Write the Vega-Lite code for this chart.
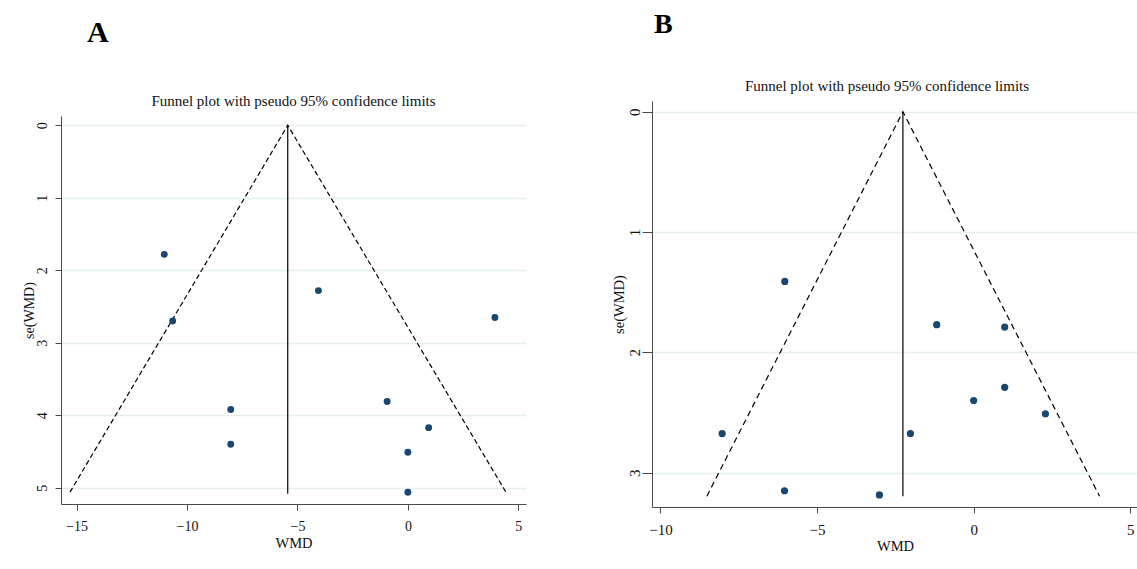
{
  "$schema": "https://vega.github.io/schema/vega-lite/v6.json",
  "background": "white",
  "padding": {"left": 22, "top": 10, "right": 0, "bottom": 0},
  "autosize": {"type": "pad"},
  "config": {
    "view": {"stroke": null},
    "font": "Liberation Serif",
    "axis": {
      "domainColor": "#4a4a4a",
      "tickColor": "#4a4a4a",
      "labelColor": "#111111",
      "titleColor": "#111111",
      "labelFont": "Liberation Serif",
      "titleFont": "Liberation Serif",
      "titleFontWeight": "normal",
      "gridColor": "#e6eff0",
      "gridWidth": 1.5,
      "domainWidth": 1,
      "tickWidth": 1,
      "tickSize": 6
    },
    "title": {"font": "Liberation Serif", "fontWeight": "normal", "color": "#111111"}
  },
  "datasets": {
    "ptsA": [
      {"WMD": -11.03, "se": 1.78},
      {"WMD": -10.65, "se": 2.70},
      {"WMD": -4.05, "se": 2.28},
      {"WMD": 3.94, "se": 2.65},
      {"WMD": -8.02, "se": 3.92},
      {"WMD": -8.02, "se": 4.40},
      {"WMD": -0.94, "se": 3.81},
      {"WMD": 0.94, "se": 4.17},
      {"WMD": 0.0, "se": 4.51},
      {"WMD": 0.0, "se": 5.06}
    ],
    "funnelA": [
      {"WMD": -15.3, "se": 5.06},
      {"WMD": -5.44, "se": 0},
      {"WMD": 4.44, "se": 5.06}
    ],
    "centerA": [{"WMD": -5.44, "se": 0, "se_end": 5.08}],
    "ptsB": [
      {"WMD": -6.03, "se": 1.41},
      {"WMD": -1.18, "se": 1.77},
      {"WMD": 0.99, "se": 1.79},
      {"WMD": 0.99, "se": 2.29},
      {"WMD": 0.0, "se": 2.40},
      {"WMD": 2.29, "se": 2.51},
      {"WMD": -8.03, "se": 2.675},
      {"WMD": -2.02, "se": 2.675},
      {"WMD": -6.04, "se": 3.15},
      {"WMD": -3.01, "se": 3.185}
    ],
    "funnelB": [
      {"WMD": -8.52, "se": 3.196},
      {"WMD": -2.26, "se": 0},
      {"WMD": 4.02, "se": 3.196}
    ],
    "centerB": [{"WMD": -2.26, "se": 0, "se_end": 3.196}],
    "empty": []
  },
  "spacing": 84,
  "hconcat": [
    {
      "spacing": 0,
      "vconcat": [
        {
          "width": 1,
          "height": 43,
          "data": {"name": "empty"},
          "mark": "point",
          "title": {"text": "A", "anchor": "start", "frame": "group", "fontSize": 30, "fontWeight": "bold", "baseline": "top", "offset": 2.8, "dx": 26, "color": "#000000"}
        },
        {
          "width": 465,
          "height": 388,
          "title": {"text": "Funnel plot with pseudo 95% confidence limits", "anchor": "middle", "frame": "group", "fontSize": 15, "baseline": "top", "offset": 7},
          "encoding": {
            "x": {"field": "WMD", "type": "quantitative",
              "scale": {"domain": [-15.706, 5.348], "nice": false, "zero": false},
              "axis": {"values": [-15, -10, -5, 0, 5], "title": "WMD", "grid": false, "labelFontSize": 14, "titleFontSize": 14.5, "labelPadding": 9, "titlePadding": 3}},
            "y": {"field": "se", "type": "quantitative",
              "scale": {"domain": [-0.128, 5.223], "reverse": true, "nice": false, "zero": false},
              "axis": {"values": [0, 1, 2, 3, 4, 5], "title": "se(WMD)", "grid": true, "labelAngle": -90, "labelFontSize": 14, "titleFontSize": 14, "labelPadding": 6, "titlePadding": -1}}
          },
          "layer": [
            {"data": {"name": "funnelA"}, "mark": {"type": "line", "color": "#000000", "strokeWidth": 1.2, "strokeDash": [5, 3]}},
            {"data": {"name": "centerA"}, "mark": {"type": "rule", "color": "#000000", "strokeWidth": 1.2}, "encoding": {"y2": {"field": "se_end"}}},
            {"data": {"name": "ptsA"}, "mark": {"type": "point", "filled": true, "shape": "circle", "size": 48, "color": "#1a476f", "opacity": 1}}
          ]
        }
      ]
    },
    {
      "spacing": 0,
      "vconcat": [
        {
          "width": 1,
          "height": 28,
          "data": {"name": "empty"},
          "mark": "point",
          "title": {"text": "B", "anchor": "start", "frame": "group", "fontSize": 28, "fontWeight": "bold", "baseline": "top", "offset": 12.4, "dx": 2, "color": "#000000"}
        },
        {
          "width": 486,
          "height": 406,
          "title": {"text": "Funnel plot with pseudo 95% confidence limits", "anchor": "middle", "frame": "group", "fontSize": 15, "baseline": "top", "offset": 7, "dx": -8},
          "encoding": {
            "x": {"field": "WMD", "type": "quantitative",
              "scale": {"domain": [-10.27, 5.246], "nice": false, "zero": false},
              "axis": {"values": [-10, -5, 0, 5], "title": "WMD", "grid": false, "labelFontSize": 15, "titleFontSize": 14.5, "labelPadding": 9, "titlePadding": 2}},
            "y": {"field": "se", "type": "quantitative",
              "scale": {"domain": [-0.089, 3.285], "reverse": true, "nice": false, "zero": false},
              "axis": {"values": [0, 1, 2, 3], "title": "se(WMD)", "grid": true, "labelAngle": -90, "labelFontSize": 15, "titleFontSize": 14.5, "tickSize": 10, "labelPadding": 0, "titlePadding": 1}}
          },
          "layer": [
            {"data": {"name": "funnelB"}, "mark": {"type": "line", "color": "#000000", "strokeWidth": 1.2, "strokeDash": [6, 4]}},
            {"data": {"name": "centerB"}, "mark": {"type": "rule", "color": "#000000", "strokeWidth": 1.2}, "encoding": {"y2": {"field": "se_end"}}},
            {"data": {"name": "ptsB"}, "mark": {"type": "point", "filled": true, "shape": "circle", "size": 52, "color": "#1a476f", "opacity": 1}}
          ]
        }
      ]
    }
  ]
}
